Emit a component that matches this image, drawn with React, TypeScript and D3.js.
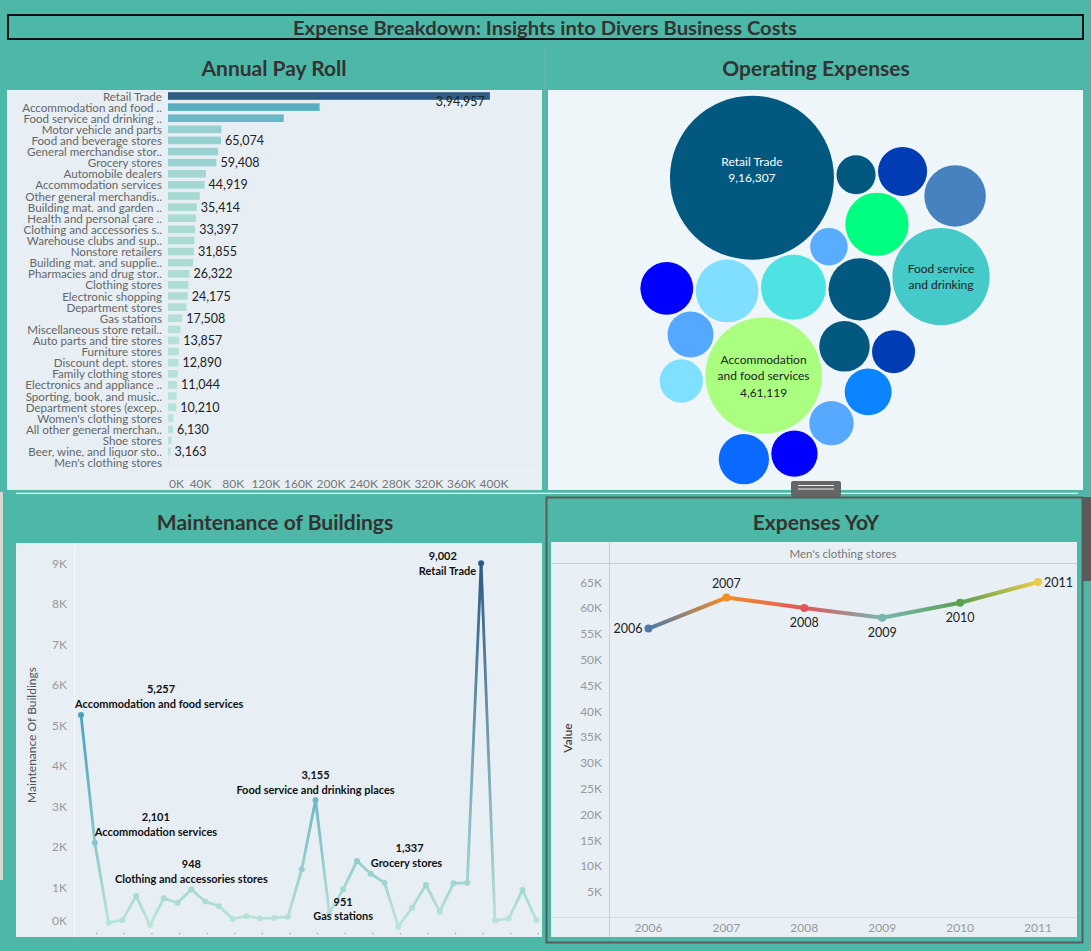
import * as d3 from "d3";

const W = 1091;
const H = 951;
const FONT = "Lato, 'Open Sans', sans-serif";
const TEAL = "#4db8a7";
const INK = "#333333";

// Annual Pay Roll (sorted descending, names as Tableau truncates them)
const payrollCategories = [
  "Retail Trade", "Accommodation and food ..", "Food service and drinking ..", "Motor vehicle and parts",
  "Food and beverage stores", "General merchandise stor..", "Grocery stores", "Automobile dealers",
  "Accommodation services", "Other general merchandis..", "Building mat. and garden ..", "Health and personal care ..",
  "Clothing and accessories s..", "Warehouse clubs and sup..", "Nonstore retailers", "Building mat. and supplie..",
  "Pharmacies and drug stor..", "Clothing stores", "Electronic shopping", "Department stores",
  "Gas stations", "Miscellaneous store retail..", "Auto parts and tire stores", "Furniture stores",
  "Discount dept. stores", "Family clothing stores", "Electronics and appliance ..", "Sporting, book, and  music..",
  "Department stores (excep..", "Women's clothing stores", "All other general merchan..", "Shoe stores",
  "Beer, wine, and liquor sto..", "Men's clothing stores",
];
const payrollValues = [
  394957, 186000, 142000, 65500, 65074, 61500, 59408, 46500, 44919, 39000, 35414, 34200,
  33397, 32400, 31855, 30800, 26322, 25100, 24175, 22600, 17508, 15300, 13857, 13300,
  12890, 11800, 11044, 10600, 10210, 6500, 6130, 4500, 3163, 500,
];
const payrollLabeled = [
  "Retail Trade", "Food and beverage stores", "Grocery stores", "Accommodation services",
  "Building mat. and garden ..", "Clothing and accessories s..", "Nonstore retailers", "Pharmacies and drug stor..",
  "Electronic shopping", "Gas stations", "Auto parts and tire stores", "Discount dept. stores",
  "Electronics and appliance ..", "Department stores (excep..", "All other general merchan..", "Beer, wine, and liquor sto..",
];
const payrollTicks = [0, 40000, 80000, 120000, 160000, 200000, 240000, 280000, 320000, 360000, 400000];

// Operating Expenses (packed bubbles)
const opexCategories = [
  "Retail Trade", "Accommodation and food services", "Food service and drinking places", "Motor vehicle and parts dealers",
  "Food and beverage stores", "Grocery stores", "General merchandise stores", "Automobile dealers",
  "Accommodation services", "Other general merchandise stores", "Building mat. and garden", "Health and personal care stores",
  "Clothing and accessories stores", "Warehouse clubs and supercenters", "Nonstore retailers", "Building mat. and supplies dealers",
  "Pharmacies and drug stores", "Clothing stores", "Electronic shopping", "Department stores",
];
const opexValues = [
  916307, 461119, 322000, 144000, 136000, 134000, 132000, 129000, 95000, 87000,
  86000, 82000, 75000, 73000, 72000, 67000, 64000, 63000, 52000, 48000,
];
const opexColors = [
  "#02587f", "#aaff80", "#45c9c9", "#4ee3e3", "#00ff80", "#80dfff", "#02587f", "#4682c0", "#0000ff", "#02587f",
  "#0a6aff", "#003cb4", "#0a84ff", "#0000ff", "#55a8ff", "#57a9ff", "#80e0ff", "#003cb4", "#02587f", "#5aacff",
];
const opexLabels: Record<string, string[]> = {
  "Retail Trade": ["Retail Trade", "9,16,307"],
  "Accommodation and food services": ["Accommodation", "and food services", "4,61,119"],
  "Food service and drinking places": ["Food service", "and drinking"],
};

// Maintenance of Buildings (alphabetical)
const maintCategories = [
  "Accommodation and food services", "Accommodation services", "All other general merchandise stores", "Auto parts and tire stores",
  "Automobile dealers", "Beer, wine, and liquor stores", "Building mat. and garden equipment", "Building mat. and supplies dealers",
  "Clothing and accessories stores", "Clothing stores", "Department stores", "Department stores (except discount)",
  "Discount dept. stores", "Electronic shopping", "Electronics and appliance stores", "Family clothing stores",
  "Food and beverage stores", "Food service and drinking places", "Furniture stores", "Gas stations",
  "General merchandise stores", "Grocery stores", "Health and personal care stores", "Men's clothing stores",
  "Miscellaneous store retailers", "Motor vehicle and parts dealers", "Nonstore retailers", "Other general merchandise stores",
  "Pharmacies and drug stores", "Retail Trade", "Shoe stores", "Sporting goods, hobby, book, and music stores",
  "Warehouse clubs and supercenters", "Women's clothing stores",
];
const maintValues = [
  5257, 2101, 130, 190, 790, 70, 730, 620, 948, 650, 540, 220,
  290, 235, 245, 275, 1445, 3155, 360, 951, 1650, 1337, 1115, 30,
  500, 1060, 400, 1100, 1115, 9002, 180, 235, 935, 195,
];
const maintTicks = [0, 1000, 2000, 3000, 4000, 5000, 6000, 7000, 8000, 9000];
// label placement per annotated point: where the two-line label sits
const maintLabelPlacement: Record<string, { anchor: string; dx: number; side: "above" | "below" | "left" }> = {
  "Accommodation and food services": { anchor: "start", dx: -6, side: "above" },
  "Accommodation services": { anchor: "start", dx: 0, side: "above" },
  "Clothing and accessories stores": { anchor: "middle", dx: 0, side: "above" },
  "Food service and drinking places": { anchor: "middle", dx: 0, side: "above" },
  "Gas stations": { anchor: "middle", dx: 0, side: "below" },
  "Grocery stores": { anchor: "start", dx: 0, side: "above" },
  "Retail Trade": { anchor: "end", dx: -5, side: "left" },
};

// Expenses YoY (Men's clothing stores)
const yoyYears = ["2006", "2007", "2008", "2009", "2010", "2011"];
const yoyValues = [56000, 62000, 60000, 58100, 61000, 65000];
const yoyColors = ["#4e79a7", "#f28e2b", "#e15759", "#76b7b2", "#59a14f", "#edc948"];
const yoyTicks = [5000, 10000, 15000, 20000, 25000, 30000, 35000, 40000, 45000, 50000, 55000, 60000, 65000];
const yoyLabelPlacement: Record<string, "left" | "above" | "below" | "right"> = {
  "2006": "left", "2007": "above", "2008": "below", "2009": "below", "2010": "below", "2011": "right",
};

const fmtIN = (n: number) => {
  const s = Math.round(n).toString();
  if (s.length <= 3) return s;
  const rest = s.slice(0, -3).replace(/\B(?=(\d{2})+(?!\d))/g, ",");
  return rest + "," + s.slice(-3);
};
const fmtK = (v: number) => `${Math.round(v / 1000)}K`;

const blueTeal = (max: number) =>
  d3.scaleLinear<string>()
    .domain([0, max / 3, (2 * max) / 3, max])
    .range(["#bde5d9", "#6ebac6", "#3a9cb9", "#2c5985"])
    .interpolate(d3.interpolateRgb);

function PanelTitle({ x, y, text }: { x: number; y: number; text: string }) {
  return (
    <text x={x} y={y} textAnchor="middle" dominantBaseline="central" fontSize={21} fontWeight={700} fill={INK}>
      {text}
    </text>
  );
}

function PayrollChart() {
  const x = d3.scaleLinear().domain([0, 400000]).range([168, 494]);
  const y = d3.scalePoint().domain(payrollCategories).range([96, 462.7]);
  const color = blueTeal(400000);
  const bh = 7.6;
  return (
    <g>
      <rect x={7} y={90} width={535} height={400} fill="#e7eff5" />
      <PanelTitle x={274} y={67} text="Annual Pay Roll" />
      {payrollCategories.map((c, i) => {
        const cy = y(c)!;
        const v = payrollValues[i];
        return (
          <g key={c}>
            <text x={162} y={cy} textAnchor="end" dominantBaseline="central" fontSize={11.6} fill="#666">
              {c}
            </text>
            <rect x={x(0)} y={cy - bh / 2} width={Math.max(0, x(v) - x(0))} height={bh} fill={color(v)} />
          </g>
        );
      })}
      {payrollLabeled.map((c) => {
        const i = payrollCategories.indexOf(c);
        const v = payrollValues[i];
        const cy = y(c)!;
        const inside = i === 0;
        return (
          <text
            key={c}
            x={inside ? x(v) - 5 : x(v) + 4}
            y={inside ? cy + 5 : cy}
            textAnchor={inside ? "end" : "start"}
            dominantBaseline="central"
            fontSize={12.5}
            fill="#222"
          >
            {fmtIN(v)}
          </text>
        );
      })}
      <line x1={168} x2={540} y1={470.5} y2={470.5} stroke="#f4f8fa" strokeDasharray="1 1.5" />
      {payrollTicks.map((t, i) => (
        <text
          key={t}
          x={i === 0 ? x(t) + 1 : x(t)}
          y={483}
          textAnchor={i === 0 ? "start" : "middle"}
          dominantBaseline="central"
          fontSize={12}
          fill="#777"
        >
          {fmtK(t)}
        </text>
      ))}
    </g>
  );
}

type Bubble = d3.SimulationNodeDatum & { name: string; value: number; color: string; r: number; x: number; y: number };

// where the two labelled neighbours of the biggest bubble drift to, relative to it
const bubbleAnchors: Record<string, [number, number]> = {
  "Accommodation and food services": [15, 178],
  "Food service and drinking places": [175, 75],
};

function layoutBubbles(): Bubble[] {
  const rScale = d3.scaleSqrt().domain([0, 916307]).range([0, 82]);
  const circles: Bubble[] = opexCategories.map((c, i) => ({
    name: c, value: opexValues[i], color: opexColors[i], r: rScale(opexValues[i]), x: 0, y: 0,
  }));
  // seed positions from a sibling pack, then let the smaller bubbles settle below the biggest one
  d3.packSiblings(circles);
  const ox = circles[0].x;
  const oy = circles[0].y;
  circles.forEach((c) => {
    c.x -= ox;
    c.y -= oy;
  });
  circles[0].fx = 0;
  circles[0].fy = 0;
  const anchored = (d: Bubble) => d.name in bubbleAnchors;
  const sim = d3.forceSimulation<Bubble>(circles)
    .alphaDecay(0.008)
    .force("x", d3.forceX<Bubble>((d) => (anchored(d) ? bubbleAnchors[d.name][0] : 50)).strength((d) => (anchored(d) ? 0.3 : 0.05)))
    .force("y", d3.forceY<Bubble>((d) => (anchored(d) ? bubbleAnchors[d.name][1] : 175)).strength((d) => (anchored(d) ? 0.3 : 0.05)))
    .force("collide", d3.forceCollide<Bubble>((d) => d.r + 1.3).strength(1).iterations(5))
    .stop();
  for (let i = 0; i < 900; i++) sim.tick();
  const x0 = d3.min(circles, (c) => c.x - c.r)!;
  const x1 = d3.max(circles, (c) => c.x + c.r)!;
  const y0 = d3.min(circles, (c) => c.y - c.r)!;
  const y1 = d3.max(circles, (c) => c.y + c.r)!;
  const sx = 815 - (x0 + x1) / 2;
  // keep the top bubble just under the panel's upper edge when the cluster is tall
  const sy = Math.max(91 - y0, 290 - (y0 + y1) / 2);
  circles.forEach((c) => {
    c.x += sx;
    c.y += sy;
  });
  return circles;
}

function OpexChart() {
  const circles = layoutBubbles();
  return (
    <g>
      <rect x={548} y={90} width={535} height={400} fill="#eef6fa" />
      <PanelTitle x={816} y={67} text="Operating Expenses" />
      <clipPath id="opexClip">
        <rect x={548} y={90} width={535} height={400} />
      </clipPath>
      <g clipPath="url(#opexClip)">
        {circles.map((c) => (
          <circle key={c.name} cx={c.x} cy={c.y} r={c.r} fill={c.color} />
        ))}
      </g>
      {circles.map((c, i) => {
        const lines = opexLabels[c.name];
        if (!lines) return null;
        const lh = 16.5;
        const y0 = c.y - ((lines.length - 1) * lh) / 2 - (i === 0 ? 8 : 0);
        return (
          <text key={c.name} textAnchor="middle" fontSize={12} fill={i === 0 ? "#ffffff" : "#222"}>
            {lines.map((l, k) => (
              <tspan key={k} x={c.x} y={y0 + k * lh} dominantBaseline="central">
                {l}
              </tspan>
            ))}
          </text>
        );
      })}
      <rect x={791} y={481} width={50} height={16} rx={2} fill="#666" />
      <line x1={798} x2={834} y1={485.5} y2={485.5} stroke="#eee" strokeWidth={1} />
      <line x1={798} x2={834} y1={489} y2={489} stroke="#eee" strokeWidth={1} />
    </g>
  );
}

// value centred over the name line, whatever anchor the name uses
function ValueOverName({ x, y, anchor, name, value }: { x: number; y: number; anchor: string; name: string; value: string }) {
  const w = name.length * 5.55;
  const cx = anchor === "start" ? x + w / 2 : anchor === "end" ? x - w / 2 : x;
  return (
    <text x={cx} y={y} textAnchor="middle" dominantBaseline="central">
      {value}
    </text>
  );
}

function MaintenanceChart() {
  const x = d3.scalePoint().domain(maintCategories).range([81, 536.3]);
  const y = d3.scaleLinear().domain([0, 9000]).range([927.9, 563.3]);
  const color = blueTeal(9000);
  const pts = maintCategories.map((c, i) => ({ c, v: maintValues[i], px: x(c)!, py: y(maintValues[i]) }));
  return (
    <g>
      <rect x={16} y={543} width={526} height={394} fill="#e7eff5" />
      <PanelTitle x={275} y={521} text="Maintenance of Buildings" />
      <line x1={74.5} x2={74.5} y1={543} y2={937} stroke="#f6f9fb" strokeWidth={1} />
      {maintTicks.map((t) => (
        <text key={t} x={67} y={Math.min(y(t), 920)} textAnchor="end" dominantBaseline="central" fontSize={12} fill="#999">
          {fmtK(t)}
        </text>
      ))}
      <text
        transform={`translate(31,735) rotate(-90)`}
        textAnchor="middle"
        dominantBaseline="central"
        fontSize={12}
        fill="#555"
      >
        Maintenance Of Buildings
      </text>
      {pts.map((p, i) =>
        i % 2 === 1 ? <circle key={p.c} cx={p.px + 2} cy={933.5} r={0.7} fill="#999" /> : null
      )}
      <defs>
        {pts.slice(1).map((p, i) => (
          <linearGradient
            key={p.c}
            id={`mseg${i}`}
            gradientUnits="userSpaceOnUse"
            x1={pts[i].px}
            y1={pts[i].py}
            x2={p.px}
            y2={p.py}
          >
            <stop offset="0" stopColor={color(pts[i].v)} />
            <stop offset="1" stopColor={color(p.v)} />
          </linearGradient>
        ))}
      </defs>
      {pts.slice(1).map((p, i) => (
        <line
          key={p.c}
          x1={pts[i].px}
          y1={pts[i].py}
          x2={p.px}
          y2={p.py}
          stroke={`url(#mseg${i})`}
          strokeWidth={2.8}
          strokeLinecap="round"
        />
      ))}
      {pts.map((p) => (
        <circle key={p.c} cx={p.px} cy={p.py} r={3} fill={color(p.v)} />
      ))}
      {pts.map((p) => {
        const pl = maintLabelPlacement[p.c];
        if (!pl) return null;
        const lx = p.px + pl.dx;
        let y1 = p.py - 26;
        let y2 = p.py - 11;
        if (pl.side === "below") {
          y1 = p.py + 12;
          y2 = p.py + 26;
        } else if (pl.side === "left") {
          y1 = p.py - 7.5;
          y2 = p.py + 7.5;
        }
        return (
          <g key={p.c} fontSize={11} fontWeight={700} fill="#111">
            <text x={lx} y={y2} textAnchor={pl.anchor} dominantBaseline="central">
              {p.c}
            </text>
            <ValueOverName x={lx} y={y1} anchor={pl.anchor} name={p.c} value={fmtIN(p.v)} />
          </g>
        );
      })}
    </g>
  );
}

function YoyChart() {
  const x = d3.scaleBand().domain(yoyYears).range([609.5, 1077]);
  const y = d3.scaleLinear().domain([0, 68700]).range([917.5, 563]);
  const pts = yoyYears.map((yr, i) => ({ yr, v: yoyValues[i], px: x(yr)! + x.bandwidth() / 2, py: y(yoyValues[i]), col: yoyColors[i] }));
  return (
    <g>
      <rect x={551} y={542} width={526} height={395} fill="#e8f0f5" />
      <PanelTitle x={816} y={521} text="Expenses YoY" />
      <line x1={551} x2={1077} y1={563.5} y2={563.5} stroke="#c9cfd3" />
      <line x1={609.5} x2={609.5} y1={542} y2={937} stroke="#c9cfd3" />
      <line x1={551} x2={1077} y1={917.5} y2={917.5} stroke="#d3d9dd" />
      <text x={843} y={553} textAnchor="middle" dominantBaseline="central" fontSize={11.5} fill="#777">
        Men's clothing stores
      </text>
      {yoyTicks.map((t) => (
        <text key={t} x={602} y={y(t)} textAnchor="end" dominantBaseline="central" fontSize={12} fill="#999">
          {fmtK(t)}
        </text>
      ))}
      <text transform="translate(567,738) rotate(-90)" textAnchor="middle" dominantBaseline="central" fontSize={12} fontWeight={600} fill="#444">
        Value
      </text>
      {pts.map((p) => (
        <text key={p.yr} x={p.px} y={927.5} textAnchor="middle" dominantBaseline="central" fontSize={12} fill="#999">
          {p.yr}
        </text>
      ))}
      <defs>
        {pts.slice(1).map((p, i) => (
          <linearGradient key={p.yr} id={`yseg${i}`} gradientUnits="userSpaceOnUse" x1={pts[i].px} y1={pts[i].py} x2={p.px} y2={p.py}>
            <stop offset="0" stopColor={pts[i].col} />
            <stop offset="1" stopColor={p.col} />
          </linearGradient>
        ))}
      </defs>
      {pts.slice(1).map((p, i) => (
        <line key={p.yr} x1={pts[i].px} y1={pts[i].py} x2={p.px} y2={p.py} stroke={`url(#yseg${i})`} strokeWidth={4} strokeLinecap="round" />
      ))}
      {pts.map((p) => (
        <circle key={p.yr} cx={p.px} cy={p.py} r={4} fill={p.col} />
      ))}
      {pts.map((p) => {
        const side = yoyLabelPlacement[p.yr];
        const lx = side === "left" ? p.px - 6 : side === "right" ? p.px + 6 : p.px;
        const ly = side === "above" ? p.py - 14.5 : side === "below" ? p.py + 14.5 : p.py;
        const anchor = side === "left" ? "end" : side === "right" ? "start" : "middle";
        return (
          <text key={p.yr} x={lx} y={ly} textAnchor={anchor} dominantBaseline="central" fontSize={12.5} fill="#222">
            {p.yr}
          </text>
        );
      })}
      <rect x={546.5} y={497.5} width={536} height={445} fill="none" stroke="#5a5a5a" strokeWidth={2} />
      <rect x={1083} y={497} width={8} height={84} fill="#5a5a5a" />
    </g>
  );
}

export default function App() {
  return (
    <svg
      width={W}
      height={H}
      viewBox={`0 0 ${W} ${H}`}
      style={{ position: "absolute", left: 0, top: 0, display: "block" }}
      fontFamily={FONT}
    >
      <rect x={0} y={0} width={W} height={H} fill={TEAL} />
      <rect x={0} y={492} width={3} height={388} fill="#d8d8d8" />
      <rect x={8} y={15} width={1075} height={24} fill="none" stroke="#111" strokeWidth={2} />
      <text
        x={545}
        y={28}
        textAnchor="middle"
        dominantBaseline="central"
        fontSize={18.5}
        fontWeight={700}
        fill={INK}
        textLength={504}
        lengthAdjust="spacingAndGlyphs"
      >
        Expense Breakdown: Insights into Divers Business Costs
      </text>
      <line x1={545} x2={545} y1={45} y2={490} stroke="#7aaab4" strokeWidth={1} />
      <line x1={16} x2={1078} y1={493.3} y2={493.3} stroke="#eef6f5" strokeWidth={1.2} />
      <PayrollChart />
      <OpexChart />
      <MaintenanceChart />
      <YoyChart />
    </svg>
  );
}
